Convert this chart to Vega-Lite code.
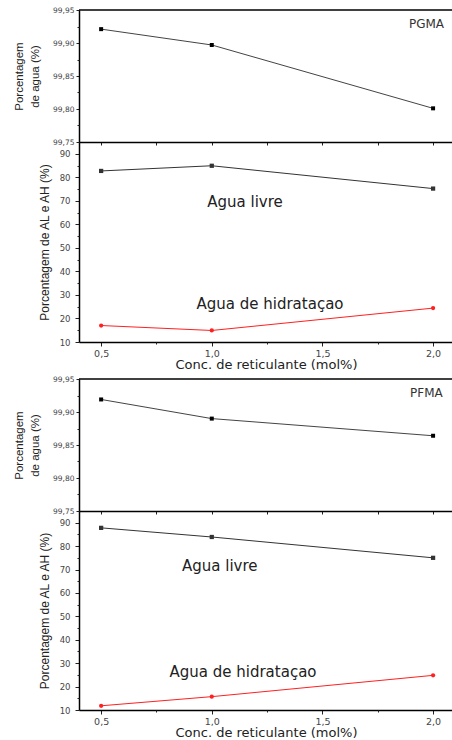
{
  "$schema": "https://vega.github.io/schema/vega-lite/v6.json",
  "padding": {"left": 13, "top": 6, "right": 0, "bottom": 0},
  "background": "white",
  "config": {
    "view": {"stroke": null},
    "axis": {"domainColor": "#000", "domainWidth": 1.5, "tickColor": "#222", "grid": false, "labelOverlap": false, "labelColor": "#444", "labelFont": "DejaVu Sans", "titleFont": "Liberation Sans", "titleColor": "#222", "titleFontWeight": "normal"}
  },
  "datasets": {
    "agua": [
      {"material": "PGMA", "conc": 0.5, "v": 99.921},
      {"material": "PGMA", "conc": 1.0, "v": 99.897},
      {"material": "PGMA", "conc": 2.0, "v": 99.801},
      {"material": "PFMA", "conc": 0.5, "v": 99.919},
      {"material": "PFMA", "conc": 1.0, "v": 99.890},
      {"material": "PFMA", "conc": 2.0, "v": 99.864}
    ],
    "frac": [
      {"material": "PGMA", "tipo": "livre", "conc": 0.5, "v": 82.7},
      {"material": "PGMA", "tipo": "livre", "conc": 1.0, "v": 84.9},
      {"material": "PGMA", "tipo": "livre", "conc": 2.0, "v": 75.2},
      {"material": "PGMA", "tipo": "hid", "conc": 0.5, "v": 17.0},
      {"material": "PGMA", "tipo": "hid", "conc": 1.0, "v": 14.9},
      {"material": "PGMA", "tipo": "hid", "conc": 2.0, "v": 24.4},
      {"material": "PFMA", "tipo": "livre", "conc": 0.5, "v": 87.8},
      {"material": "PFMA", "tipo": "livre", "conc": 1.0, "v": 83.9},
      {"material": "PFMA", "tipo": "livre", "conc": 2.0, "v": 75.0},
      {"material": "PFMA", "tipo": "hid", "conc": 0.5, "v": 11.8},
      {"material": "PFMA", "tipo": "hid", "conc": 1.0, "v": 15.7},
      {"material": "PFMA", "tipo": "hid", "conc": 2.0, "v": 24.8}
    ],
    "notes": [
      {"material": "PGMA", "panel": "agua", "conc": 1.97, "v": 99.929, "text": "PGMA"},
      {"material": "PGMA", "panel": "frac", "conc": 1.15, "v": 69.3, "text": "Agua livre"},
      {"material": "PGMA", "panel": "frac", "conc": 1.263, "v": 26.1, "text": "Agua de hidrataçao"},
      {"material": "PFMA", "panel": "agua", "conc": 1.97, "v": 99.929, "text": "PFMA"},
      {"material": "PFMA", "panel": "frac", "conc": 1.036, "v": 71.7, "text": "Agua livre"},
      {"material": "PFMA", "panel": "frac", "conc": 1.141, "v": 26.4, "text": "Agua de hidrataçao"}
    ]
  },
  "spacing": 3,
  "resolve": {"scale": {"x": "independent", "y": "independent", "color": "independent", "shape": "independent"}},
  "vconcat": [
    {
      "bounds": "flush",
      "spacing": 0,
      "resolve": {"scale": {"x": "independent", "y": "independent", "color": "independent", "shape": "independent"}},
      "vconcat": [
        {
          "width": 374, "height": 132,
          "resolve": {"axis": {"x": "independent", "y": "independent"}},
          "layer": [
            {
              "data": {"name": "agua"},
              "transform": [{"filter": "datum.material === 'PGMA'"}],
              "mark": {"type": "line", "color": "#444", "strokeWidth": 1},
              "encoding": {
                "x": {"field": "conc", "type": "quantitative", "scale": {"domain": [0.4, 2.09], "nice": false, "zero": false},
                      "axis": {"orient": "bottom", "values": [0.5, 0.75, 1, 1.25, 1.5, 1.75, 2], "labels": false, "tickSize": 3, "title": null}},
                "y": {"field": "v", "type": "quantitative", "scale": {"domain": [99.75, 99.95], "nice": false, "zero": false},
                      "axis": {"orient": "left", "values": [99.75, 99.8, 99.85, 99.9, 99.95], "labelOverlap": false,
                               "labelExpr": "replace(format(datum.value, '.2f'), '.', ',')",
                               "tickSize": 3, "labelFontSize": 7.5, "labelPadding": 2,
                               "title": ["Porcentagem", "de agua (%)"], "titleFontSize": 11.5, "titleLineHeight": 16, "titlePadding": 12}}
              }
            },
            {
              "data": {"name": "agua"},
              "transform": [{"filter": "datum.material === 'PGMA'"}],
              "mark": {"type": "point", "shape": "square", "filled": true, "color": "#000", "size": 16, "opacity": 1},
              "encoding": {
                "x": {"field": "conc", "type": "quantitative", "axis": null},
                "y": {"field": "v", "type": "quantitative",
                      "axis": {"orient": "left", "values": [99.775, 99.825, 99.875, 99.925], "labels": false, "domain": false, "tickSize": 2, "title": null}}
              }
            },
            {
              "data": {"name": "notes"},
              "transform": [{"filter": "datum.material === 'PGMA' && datum.panel === 'agua'"}],
              "mark": {"type": "text", "font": "DejaVu Sans", "fontSize": 12, "color": "#333"},
              "encoding": {
                "x": {"field": "conc", "type": "quantitative", "axis": null},
                "y": {"field": "v", "type": "quantitative", "axis": null},
                "text": {"field": "text"}
              }
            },
            {
              "data": {"values": [{}]},
              "mark": {"type": "rule", "color": "#000", "strokeWidth": 1.5},
              "encoding": {"y": {"datum": 99.95, "type": "quantitative", "axis": null}}
            }
          ]
        },
        {
          "width": 374, "height": 200,
          "resolve": {"axis": {"x": "independent", "y": "independent"}},
          "layer": [
            {
              "data": {"name": "frac"},
              "transform": [{"filter": "datum.material === 'PGMA'"}],
              "mark": {"type": "line", "strokeWidth": 1},
              "encoding": {
                "x": {"field": "conc", "type": "quantitative", "scale": {"domain": [0.4, 2.09], "nice": false, "zero": false},
                      "axis": {"orient": "bottom", "values": [0.5, 1, 1.5, 2], "labelOverlap": false,
                               "labelExpr": "replace(format(datum.value, '.1f'), '.', ',')",
                               "tickSize": 4, "labelFontSize": 9.5, "labelPadding": 2,
                               "title": "Conc. de reticulante (mol%)", "titleFont": "DejaVu Sans", "titleFontSize": 13, "titlePadding": 1}},
                "y": {"field": "v", "type": "quantitative", "scale": {"domain": [10, 95], "nice": false, "zero": false},
                      "axis": {"orient": "left", "values": [10, 20, 30, 40, 50, 60, 70, 80, 90], "labelOverlap": false,
                               "tickSize": 4, "labelFontSize": 8.5, "labelPadding": 5,
                               "title": "Porcentagem de AL e AH (%)", "titleFontSize": 12, "titlePadding": 8}},
                "color": {"field": "tipo", "type": "nominal", "scale": {"domain": ["livre", "hid"], "range": ["#333", "#ff2020"]}, "legend": null}
              }
            },
            {
              "data": {"name": "frac"},
              "transform": [{"filter": "datum.material === 'PGMA'"}],
              "mark": {"type": "point", "filled": true, "size": 18, "opacity": 1},
              "encoding": {
                "x": {"field": "conc", "type": "quantitative",
                      "axis": {"orient": "bottom", "values": [0.75, 1.25, 1.75], "labels": false, "domain": false, "tickSize": 2, "title": null}},
                "y": {"field": "v", "type": "quantitative",
                      "axis": {"orient": "left", "values": [15, 25, 35, 45, 55, 65, 75, 85], "labels": false, "domain": false, "tickSize": 2, "title": null}},
                "color": {"field": "tipo", "type": "nominal", "legend": null},
                "shape": {"field": "tipo", "type": "nominal", "scale": {"domain": ["livre", "hid"], "range": ["square", "circle"]}, "legend": null}
              }
            },
            {
              "data": {"name": "notes"},
              "transform": [{"filter": "datum.material === 'PGMA' && datum.panel === 'frac'"}],
              "mark": {"type": "text", "font": "DejaVu Sans", "fontSize": 15, "color": "#222"},
              "encoding": {
                "x": {"field": "conc", "type": "quantitative", "axis": null},
                "y": {"field": "v", "type": "quantitative", "axis": null},
                "text": {"field": "text"}
              }
            }
          ]
        }
      ]
    },
    {
      "bounds": "flush",
      "spacing": 0,
      "resolve": {"scale": {"x": "independent", "y": "independent", "color": "independent", "shape": "independent"}},
      "vconcat": [
        {
          "width": 374, "height": 132,
          "resolve": {"axis": {"x": "independent", "y": "independent"}},
          "layer": [
            {
              "data": {"name": "agua"},
              "transform": [{"filter": "datum.material === 'PFMA'"}],
              "mark": {"type": "line", "color": "#444", "strokeWidth": 1},
              "encoding": {
                "x": {"field": "conc", "type": "quantitative", "scale": {"domain": [0.4, 2.09], "nice": false, "zero": false},
                      "axis": {"orient": "bottom", "values": [0.5, 0.75, 1, 1.25, 1.5, 1.75, 2], "labels": false, "tickSize": 3, "title": null}},
                "y": {"field": "v", "type": "quantitative", "scale": {"domain": [99.75, 99.95], "nice": false, "zero": false},
                      "axis": {"orient": "left", "values": [99.75, 99.8, 99.85, 99.9, 99.95], "labelOverlap": false,
                               "labelExpr": "replace(format(datum.value, '.2f'), '.', ',')",
                               "tickSize": 3, "labelFontSize": 7.5, "labelPadding": 2,
                               "title": ["Porcentagem", "de agua (%)"], "titleFontSize": 11.5, "titleLineHeight": 16, "titlePadding": 12}}
              }
            },
            {
              "data": {"name": "agua"},
              "transform": [{"filter": "datum.material === 'PFMA'"}],
              "mark": {"type": "point", "shape": "square", "filled": true, "color": "#000", "size": 16, "opacity": 1},
              "encoding": {
                "x": {"field": "conc", "type": "quantitative", "axis": null},
                "y": {"field": "v", "type": "quantitative",
                      "axis": {"orient": "left", "values": [99.775, 99.825, 99.875, 99.925], "labels": false, "domain": false, "tickSize": 2, "title": null}}
              }
            },
            {
              "data": {"name": "notes"},
              "transform": [{"filter": "datum.material === 'PFMA' && datum.panel === 'agua'"}],
              "mark": {"type": "text", "font": "DejaVu Sans", "fontSize": 12, "color": "#333"},
              "encoding": {
                "x": {"field": "conc", "type": "quantitative", "axis": null},
                "y": {"field": "v", "type": "quantitative", "axis": null},
                "text": {"field": "text"}
              }
            },
            {
              "data": {"values": [{}]},
              "mark": {"type": "rule", "color": "#000", "strokeWidth": 1.5},
              "encoding": {"y": {"datum": 99.95, "type": "quantitative", "axis": null}}
            }
          ]
        },
        {
          "width": 374, "height": 199,
          "resolve": {"axis": {"x": "independent", "y": "independent"}},
          "layer": [
            {
              "data": {"name": "frac"},
              "transform": [{"filter": "datum.material === 'PFMA'"}],
              "mark": {"type": "line", "strokeWidth": 1},
              "encoding": {
                "x": {"field": "conc", "type": "quantitative", "scale": {"domain": [0.4, 2.09], "nice": false, "zero": false},
                      "axis": {"orient": "bottom", "values": [0.5, 1, 1.5, 2], "labelOverlap": false,
                               "labelExpr": "replace(format(datum.value, '.1f'), '.', ',')",
                               "tickSize": 4, "labelFontSize": 9.5, "labelPadding": 2,
                               "title": "Conc. de reticulante (mol%)", "titleFont": "DejaVu Sans", "titleFontSize": 13, "titlePadding": 1}},
                "y": {"field": "v", "type": "quantitative", "scale": {"domain": [10, 95], "nice": false, "zero": false},
                      "axis": {"orient": "left", "values": [10, 20, 30, 40, 50, 60, 70, 80, 90], "labelOverlap": false,
                               "tickSize": 4, "labelFontSize": 8.5, "labelPadding": 5,
                               "title": "Porcentagem de AL e AH (%)", "titleFontSize": 12, "titlePadding": 8}},
                "color": {"field": "tipo", "type": "nominal", "scale": {"domain": ["livre", "hid"], "range": ["#333", "#ff2020"]}, "legend": null}
              }
            },
            {
              "data": {"name": "frac"},
              "transform": [{"filter": "datum.material === 'PFMA'"}],
              "mark": {"type": "point", "filled": true, "size": 18, "opacity": 1},
              "encoding": {
                "x": {"field": "conc", "type": "quantitative",
                      "axis": {"orient": "bottom", "values": [0.75, 1.25, 1.75], "labels": false, "domain": false, "tickSize": 2, "title": null}},
                "y": {"field": "v", "type": "quantitative",
                      "axis": {"orient": "left", "values": [15, 25, 35, 45, 55, 65, 75, 85], "labels": false, "domain": false, "tickSize": 2, "title": null}},
                "color": {"field": "tipo", "type": "nominal", "legend": null},
                "shape": {"field": "tipo", "type": "nominal", "scale": {"domain": ["livre", "hid"], "range": ["square", "circle"]}, "legend": null}
              }
            },
            {
              "data": {"name": "notes"},
              "transform": [{"filter": "datum.material === 'PFMA' && datum.panel === 'frac'"}],
              "mark": {"type": "text", "font": "DejaVu Sans", "fontSize": 15, "color": "#222"},
              "encoding": {
                "x": {"field": "conc", "type": "quantitative", "axis": null},
                "y": {"field": "v", "type": "quantitative", "axis": null},
                "text": {"field": "text"}
              }
            }
          ]
        }
      ]
    }
  ]
}
